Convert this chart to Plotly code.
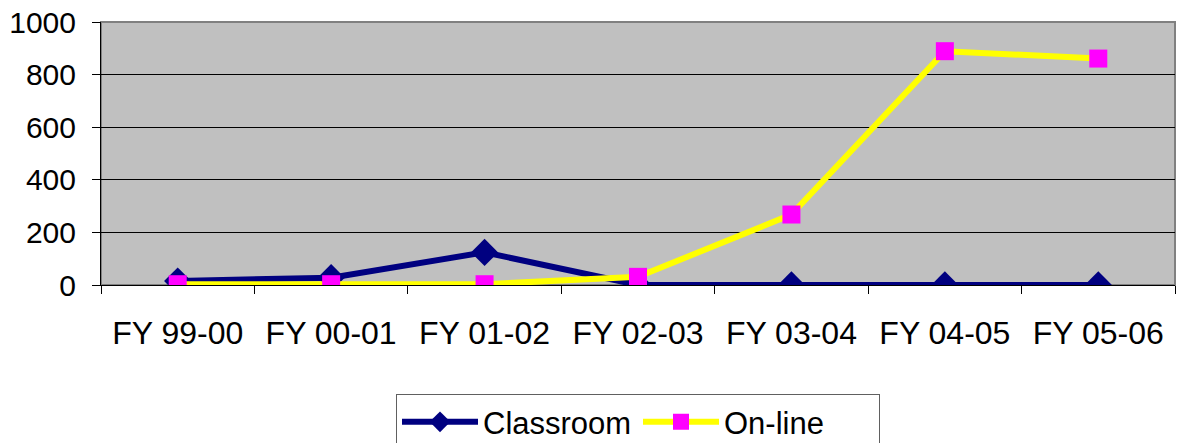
import plotly.graph_objects as go

categories = ["FY 99-00", "FY 00-01", "FY 01-02", "FY 02-03", "FY 03-04", "FY 04-05", "FY 05-06"]
classroom = [15, 28, 124, 0, 0, 0, 0]
online = [3, 3, 3, 31, 268, 889, 861]
y_ticks = [0, 200, 400, 600, 800, 1000]

fig = go.Figure()
fig.add_trace(go.Scatter(
    x=categories, y=classroom, name="Classroom", mode="lines+markers",
    line=dict(color="#000080", width=6),
    marker=dict(symbol="diamond", size=21, color="#000080"),
))
fig.add_trace(go.Scatter(
    x=categories, y=online, name="On-line", mode="lines+markers",
    line=dict(color="#FFFF00", width=6),
    marker=dict(symbol="square", size=18, color="#FF00FF"),
))

fig.update_layout(
    width=1177, height=443,
    margin=dict(l=101, r=2, t=22, b=158, autoexpand=False),
    paper_bgcolor="white",
    plot_bgcolor="#C0C0C0",
    font=dict(family="Liberation Sans, Arial", size=30, color="black"),
    showlegend=True,
    legend=dict(
        orientation="h", x=0.5, xanchor="center", y=-0.415, yanchor="top",
        bordercolor="#606060", borderwidth=1, bgcolor="white",
        font=dict(size=31), itemwidth=76, tracegroupgap=0,
        entrywidth=150, entrywidthmode="pixels",
    ),
    xaxis=dict(
        type="category", range=[-0.5, len(categories) - 0.5],
        tickson="boundaries", ticks="outside", ticklen=8,
        tickcolor="black", showgrid=False, showline=True, linecolor="black",
        linewidth=1, mirror=False, ticklabelstandoff=20, zeroline=False,
        tickfont=dict(size=32), automargin=False,
    ),
    yaxis=dict(
        range=[0, 1000], tickvals=y_ticks, ticks="outside", ticklen=8,
        tickcolor="black", showgrid=True, gridcolor="black", gridwidth=1,
        showline=True, linecolor="black", linewidth=1, zeroline=False,
        ticklabelstandoff=10, tickfont=dict(size=30), automargin=False,
    ),
    shapes=[dict(type="rect", xref="paper", yref="paper", x0=0, x1=1, y0=0, y1=1,
                 line=dict(color="#808080", width=2), layer="below")],
)

fig.write_html(
    "out.html",
    config={"displayModeBar": False},
    post_script="document.body.style.margin='0';document.body.style.overflow='hidden';",
)
